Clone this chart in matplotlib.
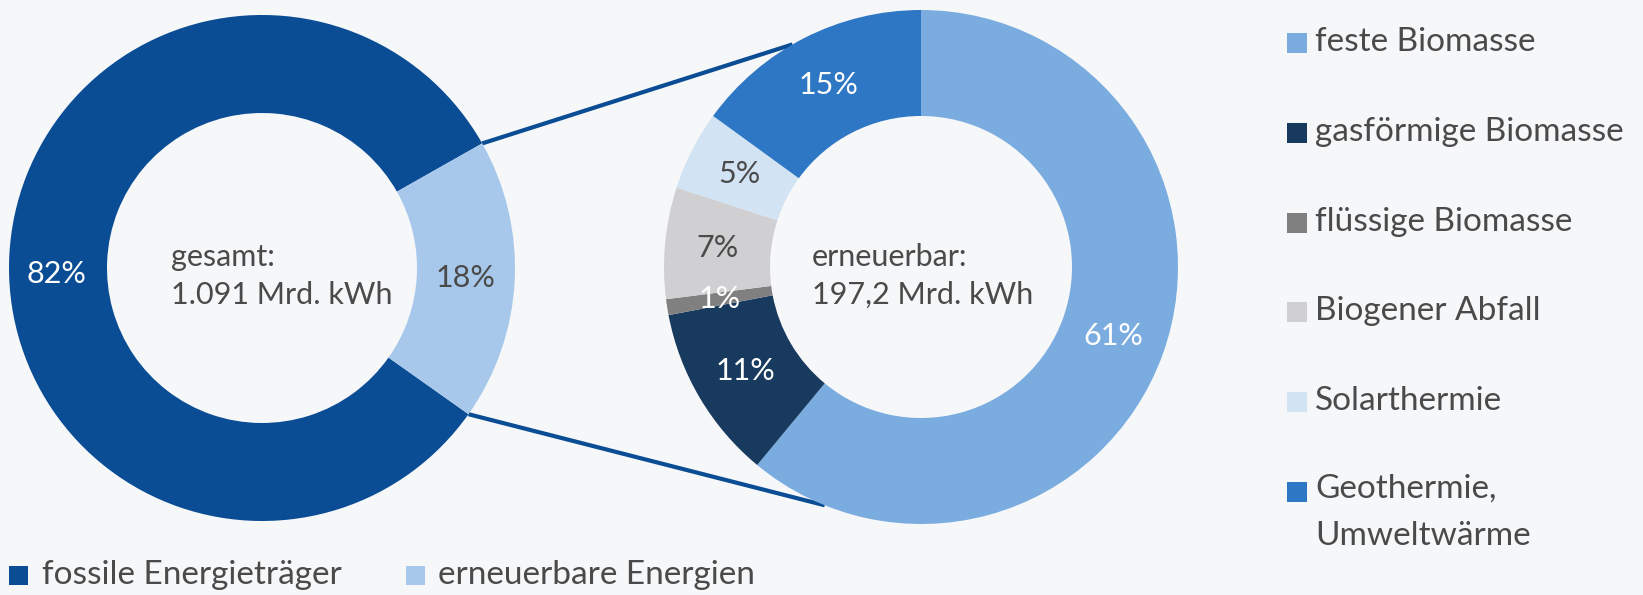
import numpy as np
import matplotlib.pyplot as plt
from matplotlib.patches import Rectangle

# data
total_labels = ['fossile Energieträger', 'erneuerbare Energien']
total_values = [82, 18]
total_colors = ['#0a4d94', '#a7c8ea']
total_text_colors = ['white', '#4a4a4a']

ren_labels = ['feste Biomasse', 'gasförmige Biomasse', 'flüssige Biomasse',
              'Biogener Abfall', 'Solarthermie', 'Geothermie,\nUmweltwärme']
ren_values = [61, 11, 1, 7, 5, 15]
ren_colors = ['#7aace0', '#173a5e', '#808080', '#d0d0d2', '#d2e3f4', '#2e77c4']
ren_text_colors = ['white', 'white', 'white', '#4a4a4a', '#4a4a4a', 'white']

total_center_text = 'gesamt:\n1.091 Mrd. kWh'
ren_center_text = 'erneuerbar:\n197,2 Mrd. kWh'

W, H = 1643, 595
BG = '#f6f7f9'
TXT = '#4a4a4a'
FONT = 'Lato'
FS = 22
FS_LEG = 24

def Y(y):
    return H - y

def main():
    fig = plt.figure(figsize=(W / 100, H / 100), dpi=100, facecolor=BG)
    ax = fig.add_axes([0, 0, 1, 1])
    ax.set_facecolor(BG)

    # left donut
    c1 = (262, Y(268))
    r1, w1 = 253, 98
    start1 = 29.5
    wedges1, _, auto1 = ax.pie(total_values, colors=total_colors, center=c1, radius=r1,
                               startangle=start1, counterclock=True,
                               wedgeprops=dict(width=w1, linewidth=0),
                               autopct='%d%%', pctdistance=(r1 - w1 / 2) / r1,
                               textprops=dict(fontsize=FS, family=FONT), frame=True)
    for t, col in zip(auto1, total_text_colors):
        t.set_color(col)
    # big label sits a bit lower in the original
    x82, _ = auto1[0].get_position()
    auto1[0].set_position((x82 - 2, Y(274)))

    # right donut
    c2 = (921, Y(267))
    r2, w2 = 257, 106
    wedges2, _, auto2 = ax.pie(ren_values, colors=ren_colors, center=c2, radius=r2,
                               startangle=90, counterclock=False,
                               wedgeprops=dict(width=w2, linewidth=0),
                               autopct='%d%%', pctdistance=(r2 - w2 / 2) / r2,
                               textprops=dict(fontsize=FS, family=FONT), frame=True)
    for t, col in zip(auto2, ren_text_colors):
        t.set_color(col)
    ax.set_xlim(0, W)
    ax.set_ylim(0, H)
    ax.set_aspect('equal')
    ax.axis('off')

    # connector lines
    a_top = np.radians(start1)
    a_bot = np.radians(start1 + 360 * total_values[0] / 100)
    p_top = (c1[0] + r1 * np.cos(a_top), c1[1] + r1 * np.sin(a_top))
    p_bot = (c1[0] + r1 * np.cos(a_bot), c1[1] + r1 * np.sin(a_bot))
    q_top = (c2[0] + r2 * np.cos(np.radians(120)), c2[1] + r2 * np.sin(np.radians(120)))
    q_bot = (c2[0] + r2 * np.cos(np.radians(-112)), c2[1] + r2 * np.sin(np.radians(-112)))
    ax.plot([p_top[0], q_top[0]], [p_top[1], q_top[1]], color=total_colors[0], lw=3, zorder=0.5,
            solid_capstyle='butt')
    ax.plot([p_bot[0], q_bot[0]], [p_bot[1], q_bot[1]], color=total_colors[0], lw=3, zorder=0.5,
            solid_capstyle='butt')

    # center texts
    ax.text(171, Y(276), total_center_text, fontsize=FS, family=FONT,
            color=TXT, ha='left', va='center', linespacing=1.4)
    ax.text(812, Y(276), ren_center_text, fontsize=FS, family=FONT,
            color=TXT, ha='left', va='center', linespacing=1.4)

    # bottom legend
    sq_x = [9, 406]
    txt_x = [42, 438]
    for i in range(len(total_labels)):
        ax.add_patch(Rectangle((sq_x[i], Y(585)), 19, 19, color=total_colors[i], lw=0))
        ax.text(txt_x[i], Y(575), total_labels[i], fontsize=FS_LEG, family=FONT,
                color=TXT, ha='left', va='center')

    # right legend
    for i in range(len(ren_labels)):
        yc = 43 + i * 89.8
        ax.add_patch(Rectangle((1287, Y(yc + 10)), 20, 20, color=ren_colors[i], lw=0))
        if '\n' in ren_labels[i]:
            ax.text(1315, Y(yc - 18), ren_labels[i], fontsize=FS_LEG, family=FONT,
                    color=TXT, ha='left', va='top', linespacing=1.7)
        else:
            ax.text(1315, Y(yc - 1), ren_labels[i], fontsize=FS_LEG, family=FONT,
                    color=TXT, ha='left', va='center')

    fig.savefig('out.png', dpi=100, facecolor=BG)

main()
